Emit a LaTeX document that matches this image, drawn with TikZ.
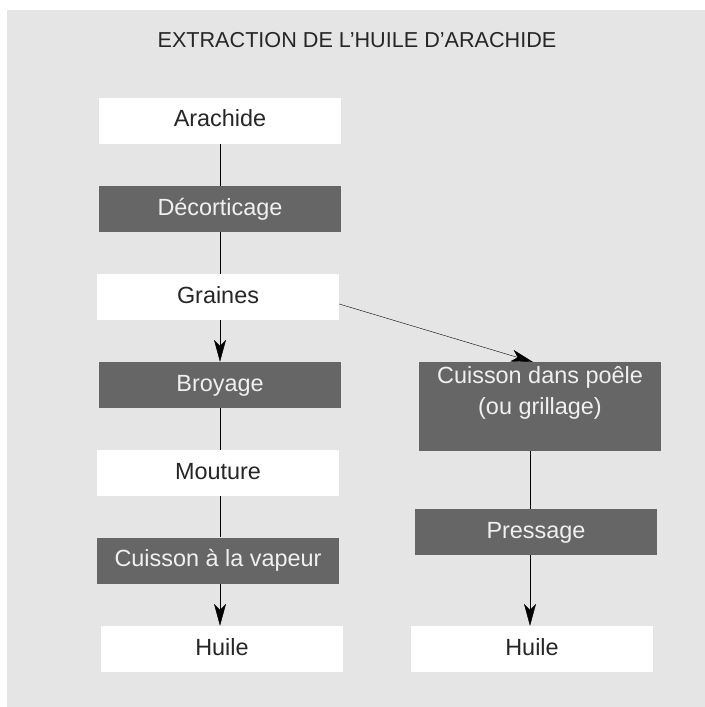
\documentclass[tikz,border=0pt]{standalone}
\usepackage{fontspec}
\setmainfont{Liberation Sans}
\usetikzlibrary{arrows.meta}
\definecolor{fond}{HTML}{E5E5E5}
\definecolor{boite}{HTML}{666666}
\begin{document}
\begin{tikzpicture}[x=1bp,y=-1bp,>={Stealth[length=22bp,width=12bp,inset=6bp]},
    produit/.style={fill=white,text=black!85,minimum width=242bp,minimum height=46bp,inner sep=0pt,
        text height=17bp,text depth=5bp,font=\fontsize{23.5}{28}\selectfont},
    etape/.style={produit,fill=boite,text=white!94!black}]
        \fill[white] (0,0) rectangle (705,707);
        \fill[fond] (7,10) rectangle (705,707);
        \node[anchor=base,text=black!85,font=\fontsize{21.7}{26}\selectfont] (titre) at (357,48) {EXTRACTION DE L’HUILE D’ARACHIDE};
        \coordinate (colG) at (220,0);
        \coordinate (colD) at (530,0);
        \node[produit] (arachide) at (220,121) {Arachide};
        \node[etape] (decort) at (220,209) {Décorticage};
        \node[produit] (graines) at (218,297) {Graines};
        \node[etape] (broyage) at (220,385) {Broyage};
        \node[produit] (mouture) at (218,473) {Mouture};
        \node[etape] (vapeur) at (218,560.5) {Cuisson à la vapeur};
        \node[produit] (huileG) at (222,649) {Huile};
        \node[etape,align=center,text height=52bp,text depth=37bp,font=\fontsize{23.5}{31}\selectfont] (poele) at (540,362) [anchor=north] {Cuisson dans poêle\\(ou grillage)};
        \node[etape] (pressage) at (536,532) {Pressage};
        \node[produit] (huileD) at (532,649) {Huile};
        \draw (arachide.south -| colG) -- (decort.north -| colG) (decort.south -| colG) -- (graines.north -| colG) (broyage.south -| colG) -- (mouture.north -| colG) (mouture.south -| colG) -- (vapeur.north -| colG);
        \draw[->] (graines.south -| colG) -- (broyage.north -| colG);
        \draw[->] (vapeur.south -| colG) -- (huileG.north -| colG);
        \draw[->] ([yshift=-7bp]graines.east) -- ([xshift=3bp]poele.north -| colD);
        \draw (poele.south -| colD) -- (pressage.north -| colD);
        \draw[->] (pressage.south -| colD) -- (huileD.north -| colD);
\end{tikzpicture}
\end{document}
